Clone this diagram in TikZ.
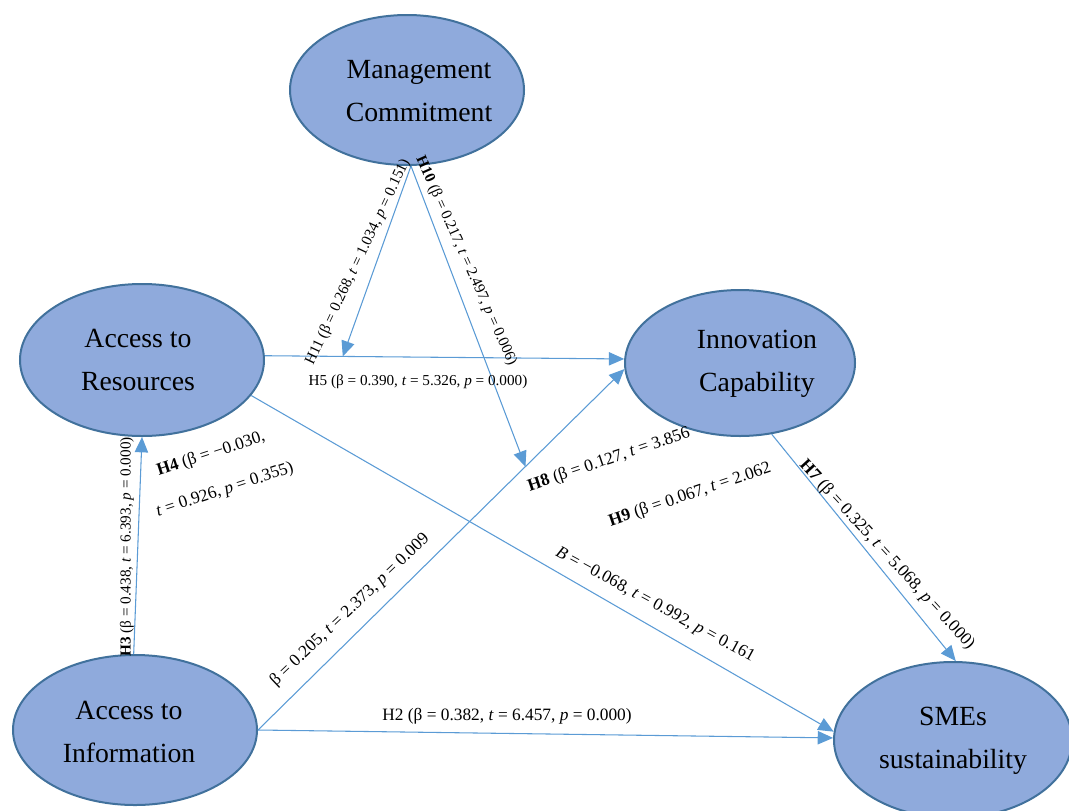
\documentclass[tikz,border=0pt]{standalone}
\usepackage{fontspec}
\setmainfont{Liberation Serif}
\usetikzlibrary{arrows.meta,shapes.geometric,calc}
\definecolor{efill}{HTML}{8FAADC}
\definecolor{eline}{HTML}{41719C}
\definecolor{aline}{HTML}{5B9BD5}
\begin{document}
\begin{tikzpicture}[x=0.75pt,y=-0.75pt,
  ell/.style={ellipse,draw=eline,fill=efill,line width=1.5pt,inner sep=0pt},
  etext/.style={align=center,font=\fontsize{20.8}{32}\selectfont,inner sep=0pt},
  conn/.style={draw=aline,line width=0.8pt,-{Triangle[length=11.5pt,width=10pt]}},
  lab/.style={font=\fontsize{11.4}{13}\selectfont,inner sep=1pt},
  labl/.style={font=\fontsize{13}{15}\selectfont,inner sep=1pt}]
\useasboundingbox (0,0) rectangle (1069,810);
% constructs
\node[ell,minimum width=175.5pt,minimum height=112.5pt] (mgmt) at (407,90) {};
\node[ell,minimum width=183pt,minimum height=114pt] (res) at (142,360) {};
\node[ell,minimum width=172.5pt,minimum height=109.5pt] (inn) at (740,363) {};
\node[ell,minimum width=183pt,minimum height=112.5pt] (info) at (135,730) {};
\node[ell,minimum width=178.5pt,minimum height=117pt] (sme) at (953,740) {};
\node[etext] (mgmtt) at (419,91) {Management\\Commitment};
\node[etext] (rest) at (138,360) {Access to\\Resources};
\node[etext] (innt) at (757,364) {Innovation\\Capability};
\node[etext] (infot) at (129,732) {Access to\\Information};
\node[etext] (smet) at (953,741) {SMEs\\sustainability};
% helper points on paths
\coordinate (h5pt) at ($(res.2)!0.217!(inn.178)$);
\coordinate (h8pt) at ($(info.0)!0.73!(inn.183)$);
% connectors
\draw[conn] (res.2) -- (inn.178);
\draw[conn] (info.0) -- (inn.183);
\draw[conn] (mgmt.-87) -- (h5pt);
\draw[conn] (mgmt.-87) -- (h8pt);
\draw[conn] (res.-18) -- (sme.176);
\draw[conn] (info.0) -- (sme.179);
\draw[conn] (info.91) -- (res.-90);
\draw[conn] (inn.-66) -- (sme.88);
% labels
\node[lab,rotate=64.7] (l11) at (358,262) {H11 (β = 0.268, \textit{t} = 1.034, \textit{p} = 0.151)};
\node[lab,rotate=-65.8] (l10) at (466,261) {\textbf{H10} (β = 0.217, \textit{t} = 2.497, \textit{p} = 0.006)};
\node[lab] (l5) at (418,382) {H5 (β = 0.390, \textit{t} = 5.326, \textit{p} = 0.000)};
\node[lab,rotate=90] (l3) at (127,547) {\textbf{H3} (β = 0.438, \textit{t} = 6.393, \textit{p} = 0.000)};
\node[labl,rotate=18] (l4a) at (211,454) {\textbf{H4} (β = −0.030,};
\node[labl,rotate=18] (l4b) at (225,490) {\textit{t} = 0.926, \textit{p} = 0.355)};
\node[labl,rotate=18.6] (l8) at (609,460) {\textbf{H8} (β = 0.127, \textit{t} = 3.856};
\node[labl,rotate=18.6] (l9) at (690,495) {\textbf{H9} (β = 0.067, \textit{t} = 2.062};
\node[labl,rotate=-47.4] (l7) at (887,555) {\textbf{H7} (β = 0.325, \textit{t} = 5.068, \textit{p} = 0.000)};
\node[labl,rotate=43.5] (lb) at (350,610) {β = 0.205, \textit{t} = 2.373, \textit{p} = 0.009};
\node[labl,rotate=-28.5] (lB) at (655,605) {\textit{B} = −0.068, \textit{t} = 0.992, \textit{p} = 0.161};
\node[labl] (l2) at (507,716) {H2 (β = 0.382, \textit{t} = 6.457, \textit{p} = 0.000)};
\end{tikzpicture}
\end{document}
